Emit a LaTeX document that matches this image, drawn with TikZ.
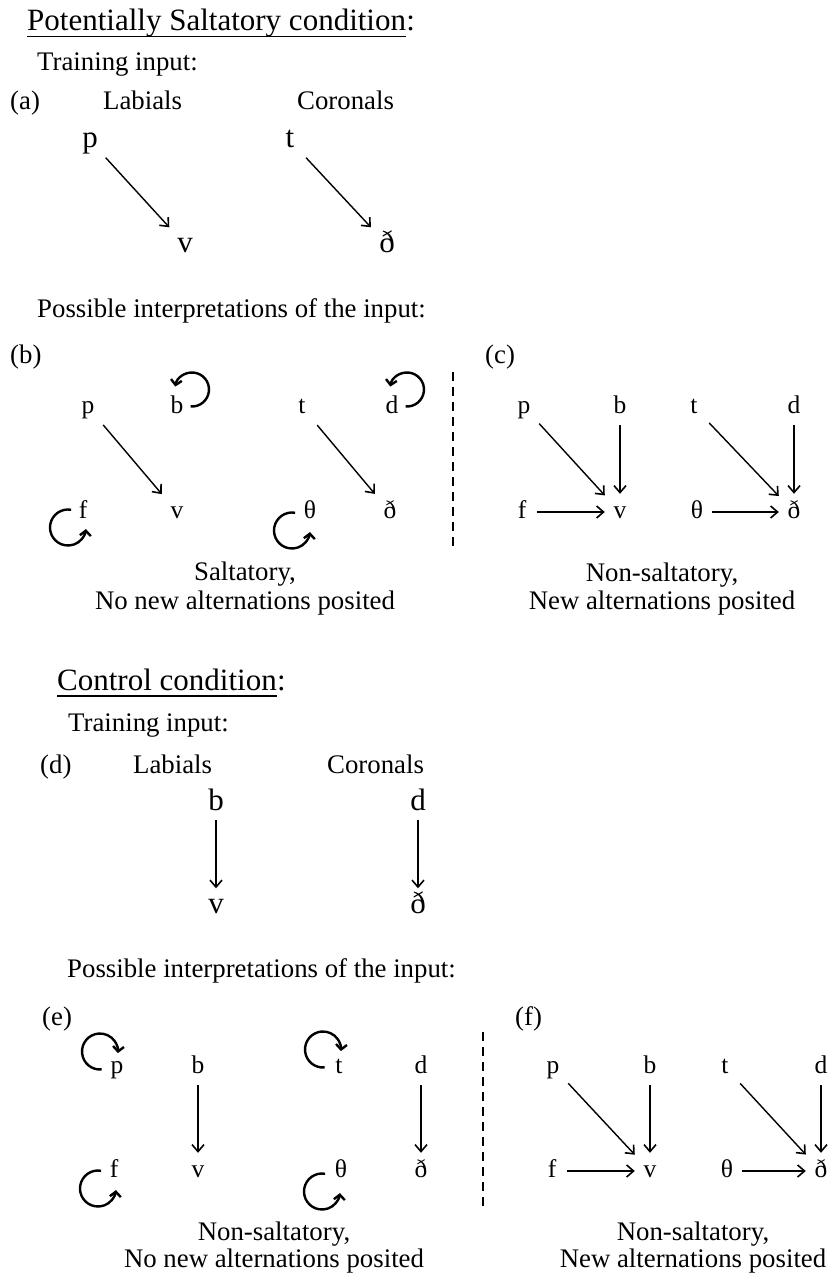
\documentclass[tikz,border=0pt]{standalone}
\usepackage{fontspec}
\setmainfont{Liberation Serif}
\usetikzlibrary{arrows.meta}
\begin{document}
\begin{tikzpicture}[x=1pt,y=-1pt,
  txt/.style={inner sep=0pt,anchor=base west,font=\fontsize{26.8}{30}\selectfont},
  ctxt/.style={inner sep=0pt,anchor=base,font=\fontsize{26.8}{30}\selectfont},
  ttl/.style={inner sep=0pt,anchor=base west,font=\fontsize{31}{36}\selectfont},
  bigph/.style={anchor=base,inner sep=0pt,minimum width=34pt,minimum height=34pt,text height=21pt,text depth=6pt,font=\fontsize{31}{36}\selectfont},
  smph/.style={anchor=base,inner sep=0pt,minimum width=30pt,minimum height=36pt,text height=17pt,text depth=5pt,font=\fontsize{25.5}{30}\selectfont},
  arr/.style={line width=1.4pt,-{Straight Barb[length=7pt,width=12pt,line width=1.6pt]}},
  lp/.style={line width=2.4pt,-{Straight Barb[length=5pt,width=11pt,line width=2.4pt]}},
  sep/.style={line width=2pt,dash pattern=on 9pt off 6pt}]
\useasboundingbox (0,0) rectangle (835,1276);

% ---------- Potentially Saltatory condition ----------
\node[ttl] (T1) at (27,31) {Potentially Saltatory condition};
\node[ttl,anchor=base west] (T1c) at (T1.base east) {:};
\draw[line width=1.6pt] ([yshift=-5.5pt]T1.base west) -- ([yshift=-5.5pt]T1.base east);
\node[txt] (tr1) at (37,71) {Training input:};
\node[txt] (la) at (10,110) {(a)};
\node[txt] (lab1) at (103,110) {Labials};
\node[txt] (cor1) at (297,110) {Coronals};
\node[bigph] (ap) at (90,148) {p};
\node[bigph] (at) at (290,148) {t};
\node[bigph] (av) at (185,252) {v};
\node[bigph] (adh) at (387,252) {ð};
\draw[arr] (ap) -- (av);
\draw[arr] (at) -- (adh);

\node[txt] (pos1) at (37,317) {Possible interpretations of the input:};

% (b)
\node[txt] (lb) at (10,363) {(b)};
\node[smph] (bp) at (88,413) {p};
\node[smph] (bb) at (177,413) {b};
\node[smph] (bt) at (302,413) {t};
\node[smph] (bd) at (392,413) {d};
\node[smph] (bf) at (83,518) {f};
\node[smph] (bv) at (177,518) {v};
\node[smph] (bth) at (310,518) {θ};
\node[smph] (bdh) at (390,518) {ð};
\draw[arr] (bp) -- (bv);
\draw[arr] (bt) -- (bdh);
\draw[lp] ([shift={(-95:17pt)}]bb.center) ++(15,-17.5) arc[start angle=-95,end angle=170,radius=17pt];
\draw[lp] ([shift={(-95:17pt)}]bd.center) ++(15,-17.5) arc[start angle=-95,end angle=170,radius=17pt];
\draw[lp] ([shift={(80:18pt)}]bf.center) ++(-15,15.5) arc[start angle=80,end angle=355,radius=18pt];
\draw[lp] ([shift={(80:18pt)}]bth.center) ++(-18,18.5) arc[start angle=80,end angle=355,radius=18pt];
\coordinate (s1a) at (453,372);
\coordinate (s1b) at (453,548);
\draw[sep] (s1a) -- (s1b);
\node[ctxt] (bcap1) at (245,580) {Saltatory,};
\node[ctxt] (bcap2) at (245,609) {No new alternations posited};

% (c)
\node[txt] (lc) at (485,363) {(c)};
\node[smph] (cp) at (524,413) {p};
\node[smph] (cb) at (620,413) {b};
\node[smph] (ct) at (694,413) {t};
\node[smph] (cd) at (794,413) {d};
\node[smph] (cf) at (522,518) {f};
\node[smph] (cv) at (620,518) {v};
\node[smph] (cth) at (697,518) {θ};
\node[smph] (cdh) at (794,518) {ð};
\draw[arr] (cp) -- (cv);
\draw[arr] (cb) -- (cv);
\draw[arr] (cf) -- (cv);
\draw[arr] (ct) -- (cdh);
\draw[arr] (cd) -- (cdh);
\draw[arr] (cth) -- (cdh);
\node[ctxt] (ccap1) at (662,581) {Non-saltatory,};
\node[ctxt] (ccap2) at (662,609) {New alternations posited};

% ---------- Control condition ----------
\node[ttl] (T2) at (57,690) {Control condition};
\node[ttl] (T2c) at (T2.base east) {:};
\draw[line width=1.6pt] ([yshift=-6pt]T2.base west) -- ([yshift=-6pt]T2.base east);
\node[txt] (tr2) at (68,731) {Training input:};
\node[txt] (ld) at (40,773) {(d)};
\node[txt] (lab2) at (133,773) {Labials};
\node[txt] (cor2) at (327,773) {Coronals};
\node[bigph] (db) at (216,810) {b};
\node[bigph] (dd) at (418,810) {d};
\node[bigph] (dv) at (216,913) {v};
\node[bigph] (ddh) at (418,913) {ð};
\draw[arr] (db) -- (dv);
\draw[arr] (dd) -- (ddh);

\node[txt] (pos2) at (67,977) {Possible interpretations of the input:};

% (e)
\node[txt] (le) at (42,1025) {(e)};
\node[smph] (ep) at (117,1073) {p};
\node[smph] (eb) at (198,1073) {b};
\node[smph] (et) at (339,1073) {t};
\node[smph] (ed) at (421,1073) {d};
\node[smph] (ef) at (114,1177) {f};
\node[smph] (ev) at (198,1177) {v};
\node[smph] (eth) at (341,1177) {θ};
\node[smph] (edh) at (421,1177) {ð};
\draw[arr] (eb) -- (ev);
\draw[arr] (ed) -- (edh);
\draw[lp] ([shift={(275:18pt)}]ep.center) ++(-17,-15.5) arc[start angle=275,end angle=-5,radius=18pt];
\draw[lp] ([shift={(275:18pt)}]et.center) ++(-16,-17.5) arc[start angle=275,end angle=-5,radius=18pt];
\draw[lp] ([shift={(80:18pt)}]ef.center) ++(-16,17.5) arc[start angle=80,end angle=355,radius=18pt];
\draw[lp] ([shift={(80:18pt)}]eth.center) ++(-19,20.5) arc[start angle=80,end angle=355,radius=18pt];
\coordinate (s2a) at (483,1032);
\coordinate (s2b) at (483,1210);
\draw[sep] (s2a) -- (s2b);
\node[ctxt] (ecap1) at (274,1240) {Non-saltatory,};
\node[ctxt] (ecap2) at (274,1267) {No new alternations posited};

% (f)
\node[txt] (lf) at (515,1025) {(f)};
\node[smph] (fp) at (553,1073) {p};
\node[smph] (fb) at (650,1073) {b};
\node[smph] (ft) at (725,1073) {t};
\node[smph] (fd) at (821,1073) {d};
\node[smph] (ff) at (552,1177) {f};
\node[smph] (fv) at (650,1177) {v};
\node[smph] (fth) at (727,1177) {θ};
\node[smph] (fdh) at (821,1177) {ð};
\draw[arr] (fp) -- (fv);
\draw[arr] (fb) -- (fv);
\draw[arr] (ff) -- (fv);
\draw[arr] (ft) -- (fdh);
\draw[arr] (fd) -- (fdh);
\draw[arr] (fth) -- (fdh);
\node[ctxt] (fcap1) at (693,1240) {Non-saltatory,};
\node[ctxt] (fcap2) at (693,1267) {New alternations posited};
\end{tikzpicture}
\end{document}
